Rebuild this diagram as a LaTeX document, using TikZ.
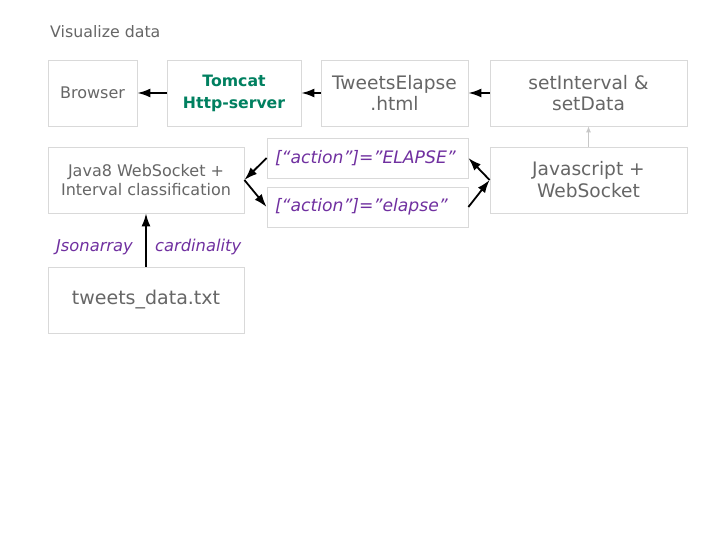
\documentclass[tikz,border=0pt]{standalone}
\usepackage{fontspec}
\setmainfont{DejaVu Sans}
\usetikzlibrary{arrows.meta}
\definecolor{txtgray}{HTML}{666666}
\definecolor{boxgray}{HTML}{D9D9D9}
\definecolor{tomgreen}{RGB}{0,128,96}
\definecolor{actpurple}{HTML}{7030A0}
\definecolor{lightarrow}{HTML}{C8C8C8}
\begin{document}
\begin{tikzpicture}[x=1pt,y=-1pt,
  box/.style={draw=boxgray,line width=0.8pt,rectangle,text=txtgray,align=center,inner sep=0pt},
  actbox/.style={draw=boxgray,line width=0.8pt,rectangle,text=actpurple,inner sep=0pt,
     minimum width=201pt,minimum height=40pt,text width=185pt,align=left,
     font=\itshape\fontsize{17.2}{20}\selectfont},
  flow/.style={line width=1.8pt,-{Latex[length=13pt,width=9pt]}},
  lbl/.style={text=actpurple,font=\itshape\fontsize{16.3}{19}\selectfont,inner sep=0pt}]
\useasboundingbox (0,0) rectangle (720,540);
\fill[white] (0,0) rectangle (720,540);
\node[anchor=west,text=txtgray,font=\fontsize{15.8}{18}\selectfont,inner sep=0pt] (title) at (50,32) {Visualize data};
\node[box,minimum width=89pt,minimum height=66pt,font=\fontsize{16}{19}\selectfont] (browser) at (92.5,93) {Browser};
\node[box,minimum width=134pt,minimum height=66pt,text=tomgreen,font=\bfseries\fontsize{15.7}{22}\selectfont] (tomcat) at (234,93) {Tomcat\\Http-server};
\node[box,minimum width=147pt,minimum height=66pt,font=\fontsize{18.6}{21}\selectfont] (html) at (394.5,93) {TweetsElapse\\.html};
\node[box,minimum width=197pt,minimum height=66pt,font=\fontsize{18.6}{21}\selectfont] (setint) at (588.5,93) {setInterval \&\\setData};
\node[box,minimum width=196pt,minimum height=66pt,font=\fontsize{16}{19}\selectfont] (java) at (146,180) {Java8 WebSocket +\\Interval classification};
\node[actbox] (up) at (367.5,158) {[“action”]=”ELAPSE”};
\node[actbox] (low) at (367.5,207) {[“action”]=”elapse”};
\node[box,minimum width=197pt,minimum height=66pt,font=\fontsize{18.6}{22}\selectfont] (js) at (588.5,180) {Javascript +\\WebSocket};
\node[box,minimum width=196pt,minimum height=66pt,font=\fontsize{19}{22}\selectfont] (tweets) at (146,300) {tweets\_data.txt};
\draw[flow] (tomcat.west) -- (browser.east);
\draw[flow] (html.west) -- (tomcat.east);
\draw[flow] (setint.west) -- (html.east);
\draw[line width=0.8pt,lightarrow,-{Latex[length=6pt,width=5pt]}] (js.north) -- (setint.south);
\draw[flow] (up.west) -- (java.east);
\draw[flow] (java.east) -- (low.west);
\draw[flow] (js.west) -- (up.east);
\draw[flow] (low.east) -- (js.west);
\draw[flow] (tweets.north) -- (java.south);
\node[lbl,anchor=east] (jsonarr) at (133,247) {Jsonarray};
\node[lbl,anchor=west] (card) at (155,247) {cardinality};
\end{tikzpicture}
\end{document}
